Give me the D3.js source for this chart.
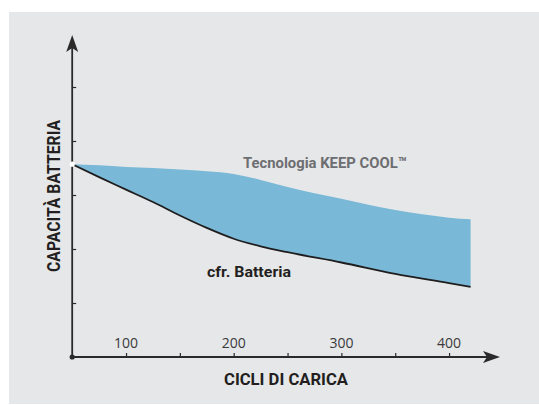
<!DOCTYPE html>
<html>
<head>
<meta charset="utf-8">
<script src="https://cdn.jsdelivr.net/npm/d3@7"></script>
<style>
  html, body { margin: 0; padding: 0; background: #ffffff; }
  svg { display: block; }
</style>
</head>
<body>
<svg id="chart" width="539" height="405"></svg>
<script>
// ---- data ----
const cycles      = [50, 75, 100, 125, 150, 175, 200, 225, 250, 300, 350, 400, 420];
const keepCool    = [3.57, 3.55, 3.52, 3.50, 3.47, 3.44, 3.39, 3.28, 3.15, 2.93, 2.72, 2.58, 2.55];
const standard    = [3.57, 3.33, 3.10, 2.87, 2.62, 2.39, 2.19, 2.05, 1.94, 1.75, 1.54, 1.37, 1.30];
const xTicks      = [100, 150, 200, 250, 300, 350, 400];
const xTickLabels = [100, 200, 300, 400];
const yTicks      = [1, 2, 3, 4, 5];
const seriesLabels = ["Tecnologia KEEP COOL\u2122", "cfr. Batteria"];
const xTitle = "CICLI DI CARICA";
const yTitle = "CAPACIT\u00c0 BATTERIA";

const svg = d3.select("#chart");

// panel
svg.append("rect").attr("x", 9).attr("y", 12).attr("width", 530).attr("height", 392)
  .attr("fill", "#e6e7e9");

const x = d3.scaleLinear().domain([50, 450]).range([72.2, 502.9]);
const y = d3.scaleLinear().domain([0, 6]).range([357, 33]);

const data = cycles.map((c, i) => ({ c, hi: keepCool[i], lo: standard[i] }));

// area between curves
const area = d3.area().curve(d3.curveMonotoneX)
  .x(d => x(d.c)).y0(d => y(d.lo)).y1(d => y(d.hi));
svg.append("path").datum(data).attr("d", area).attr("fill", "#79b8d6");

// lower line
const line = d3.line().curve(d3.curveMonotoneX).x(d => x(d.c)).y(d => y(d.lo));
svg.append("path").datum(data).attr("d", line)
  .attr("fill", "none").attr("stroke", "#1f1d1e").attr("stroke-width", 1.8);

const axisColor = "#2b2a2b";

// y axis
const yAxis = svg.append("g").attr("transform", `translate(${x(50)},0)`)
  .call(d3.axisRight(y).tickValues(yTicks).tickSize(4).tickFormat(""));
yAxis.select(".domain").remove();
yAxis.selectAll("line").attr("stroke", axisColor).attr("stroke-width", 1.2);
svg.append("line").attr("x1", x(50)).attr("x2", x(50)).attr("y1", y(0)).attr("y2", 45)
  .attr("stroke", axisColor).attr("stroke-width", 1.8);
{
  const ax = x(50), tip = 35;
  svg.append("path")
    .attr("d", `M${ax},${tip} L${ax + 6},${tip + 17} L${ax},${tip + 13} L${ax - 6},${tip + 17} Z`)
    .attr("fill", axisColor);
}

// x axis
const xAxis = svg.append("g").attr("transform", `translate(0,${y(0)})`)
  .call(d3.axisTop(x).tickValues(xTicks).tickSize(4).tickFormat(""));
xAxis.select(".domain").remove();
xAxis.selectAll("line").attr("stroke", axisColor).attr("stroke-width", 1.2);
svg.append("line").attr("x1", x(50)).attr("x2", 490).attr("y1", y(0)).attr("y2", y(0))
  .attr("stroke", axisColor).attr("stroke-width", 1.8);
{
  const ay = y(0), tip = 500;
  svg.append("path")
    .attr("d", `M${tip},${ay} L${tip - 17},${ay - 6} L${tip - 13},${ay} L${tip - 17},${ay + 6} Z`)
    .attr("fill", axisColor);
}
// x tick labels
svg.append("g").selectAll("text").data(xTickLabels).join("text")
  .attr("x", d => x(d)).attr("y", 348)
  .attr("text-anchor", "middle")
  .attr("font-family", "'Open Sans', sans-serif").attr("font-size", 14)
  .attr("fill", "#3a3a3c")
  .text(d => d);

// origin dot and start dot
svg.append("circle").attr("cx", x(50)).attr("cy", y(0)).attr("r", 2.6).attr("fill", axisColor);
svg.append("circle").attr("cx", x(cycles[0])).attr("cy", y(keepCool[0])).attr("r", 2.6).attr("fill", "#ffffff");

// titles
svg.append("text").attr("x", 286).attr("y", 385).attr("text-anchor", "middle")
  .attr("font-family", "Roboto, 'Open Sans', sans-serif").attr("font-weight", "bold")
  .attr("font-size", 17).attr("fill", "#231f20")
  .attr("textLength", 124).attr("lengthAdjust", "spacingAndGlyphs")
  .text(xTitle);

svg.append("text").attr("transform", "translate(60,196) rotate(-90)")
  .attr("text-anchor", "middle")
  .attr("font-family", "Roboto, 'Open Sans', sans-serif").attr("font-weight", "bold")
  .attr("font-size", 18).attr("fill", "#231f20")
  .attr("textLength", 152).attr("lengthAdjust", "spacingAndGlyphs")
  .text(yTitle);

// series labels
svg.append("text").attr("x", 243).attr("y", 168)
  .attr("font-family", "Roboto, 'Open Sans', sans-serif").attr("font-weight", "bold")
  .attr("font-size", 15).attr("fill", "#6d6e71")
  .attr("textLength", 164).attr("lengthAdjust", "spacingAndGlyphs")
  .text(seriesLabels[0]);

svg.append("text").attr("x", 207).attr("y", 277)
  .attr("font-family", "Roboto, 'Open Sans', sans-serif").attr("font-weight", "bold")
  .attr("font-size", 15).attr("fill", "#231f20")
  .attr("textLength", 84).attr("lengthAdjust", "spacingAndGlyphs")
  .text(seriesLabels[1]);
</script>
</body>
</html>
